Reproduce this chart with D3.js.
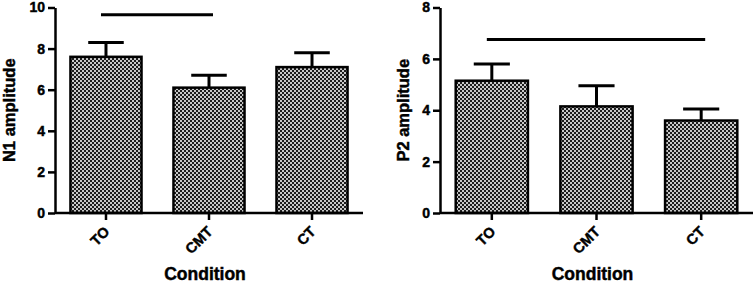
<!DOCTYPE html>
<html>
<head>
<meta charset="utf-8">
<script src="https://cdn.jsdelivr.net/npm/d3@7"></script>
<style>
  body { margin: 0; background: #fff; }
  text { font-family: "Liberation Sans", Arial, sans-serif; font-weight: bold; fill: #000; stroke: #000; stroke-width: 0.45px; }
</style>
</head>
<body>
<svg id="chart" width="755" height="283"></svg>
<script>
var conditions = ["TO", "CMT", "CT"];
var n1Mean = [7.6, 6.1, 7.1];
var n1Err = [0.7, 0.6, 0.7];
var p2Mean = [5.15, 4.15, 3.6];
var p2Err = [0.65, 0.8, 0.45];
var n1Ticks = [0, 2, 4, 6, 8, 10];
var p2Ticks = [0, 2, 4, 6, 8];
var n1Sig = { from: "TO", to: "CMT", value: 9.65 };
var p2Sig = { from: "TO", to: "CT", value: 6.75 };

var svg = d3.select("#chart");

// checker fill like the original print
var pat = svg.append("defs").append("pattern")
    .attr("id", "checker")
    .attr("width", 4).attr("height", 4)
    .attr("patternUnits", "userSpaceOnUse");
pat.append("rect").attr("width", 4).attr("height", 4).attr("fill", "#1c1c1c");
pat.append("rect").attr("x", 0).attr("y", 0).attr("width", 2).attr("height", 2).attr("fill", "#c8c8c8");
pat.append("rect").attr("x", 2).attr("y", 2).attr("width", 2).attr("height", 2).attr("fill", "#c8c8c8");

var boldFont = "Liberation Sans, Arial, sans-serif";

function drawPanel(opts) {
    var g = svg.append("g");

    var x = d3.scaleBand().domain(conditions).range([opts.x0, opts.x1]).paddingInner(0.31).paddingOuter(0.15);
    var y = d3.scaleLinear().domain([0, opts.max]).range([213, 7.5]);

    var rows = conditions.map(function (c, i) {
        return { name: c, mean: opts.mean[i], err: opts.err[i] };
    });

    // bars
    g.selectAll(".bar")
        .data(rows)
        .enter().append("rect")
        .attr("class", "bar")
        .attr("x", function (d) { return x(d.name); })
        .attr("y", function (d) { return y(d.mean); })
        .attr("width", x.bandwidth())
        .attr("height", function (d) { return y(0) - y(d.mean); })
        .attr("fill", "url(#checker)")
        .attr("stroke", "#000")
        .attr("stroke-width", 2.5);

    // error bars (upper only)
    var cx = function (d) { return x(d.name) + x.bandwidth() / 2; };
    g.selectAll(".errv")
        .data(rows)
        .enter().append("line")
        .attr("x1", cx).attr("x2", cx)
        .attr("y1", function (d) { return y(d.mean); })
        .attr("y2", function (d) { return y(d.mean + d.err); })
        .attr("stroke", "#000").attr("stroke-width", 3);
    g.selectAll(".errcap")
        .data(rows)
        .enter().append("line")
        .attr("x1", function (d) { return cx(d) - x.bandwidth() / 4; })
        .attr("x2", function (d) { return cx(d) + x.bandwidth() / 4; })
        .attr("y1", function (d) { return y(d.mean + d.err); })
        .attr("y2", function (d) { return y(d.mean + d.err); })
        .attr("stroke", "#000").attr("stroke-width", 3);

    // significance line
    g.append("line")
        .attr("x1", x(opts.sig.from) + x.bandwidth() / 2 - 5)
        .attr("x2", x(opts.sig.to) + x.bandwidth() / 2 + 4)
        .attr("y1", y(opts.sig.value)).attr("y2", y(opts.sig.value))
        .attr("stroke", "#000").attr("stroke-width", 3);

    // y axis
    var yAxis = g.append("g")
        .attr("transform", "translate(" + opts.x0 + ",0)")
        .call(d3.axisLeft(y).tickValues(opts.ticks).tickSize(7).tickSizeOuter(0).tickPadding(3));
    yAxis.selectAll("path, line").attr("stroke", "#000").attr("stroke-width", 2.5);
    yAxis.selectAll("text")
        .style("font-size", "14px").style("font-family", boldFont).style("font-weight", "bold");

    // x axis
    var xAxis = g.append("g")
        .attr("transform", "translate(0," + y(0) + ")")
        .call(d3.axisBottom(x).tickSize(7).tickSizeOuter(0));
    xAxis.select(".domain").attr("d", "M" + opts.x0 + ",0H" + opts.x1);
    xAxis.selectAll("path, line").attr("stroke", "#000").attr("stroke-width", 2.5);
    xAxis.selectAll("text")
        .style("font-size", "14.5px").style("font-family", boldFont).style("font-weight", "bold")
        .attr("text-anchor", "end")
        .attr("dy", "0.35em")
        .attr("transform", "translate(1,16) rotate(-45)")
        .attr("x", 0).attr("y", 0);

    // titles
    g.append("text")
        .attr("transform", "translate(" + opts.titleX + "," + y(opts.max / 2) + ") rotate(-90)")
        .attr("text-anchor", "middle")
        .style("font-size", "16.5px")
        .text(opts.yTitle);
    g.append("text")
        .attr("x", x(conditions[1]) + x.bandwidth() / 2 - 4)
        .attr("y", 280)
        .attr("text-anchor", "middle")
        .style("font-size", "17.5px")
        .text("Condition");
}

drawPanel({ x0: 55, x1: 363, max: 10, ticks: n1Ticks, mean: n1Mean, err: n1Err, sig: n1Sig, yTitle: "N1 amplitude", titleX: 15 });
drawPanel({ x0: 440, x1: 753, max: 8, ticks: p2Ticks, mean: p2Mean, err: p2Err, sig: p2Sig, yTitle: "P2 amplitude", titleX: 409 });
</script>
</body>
</html>
